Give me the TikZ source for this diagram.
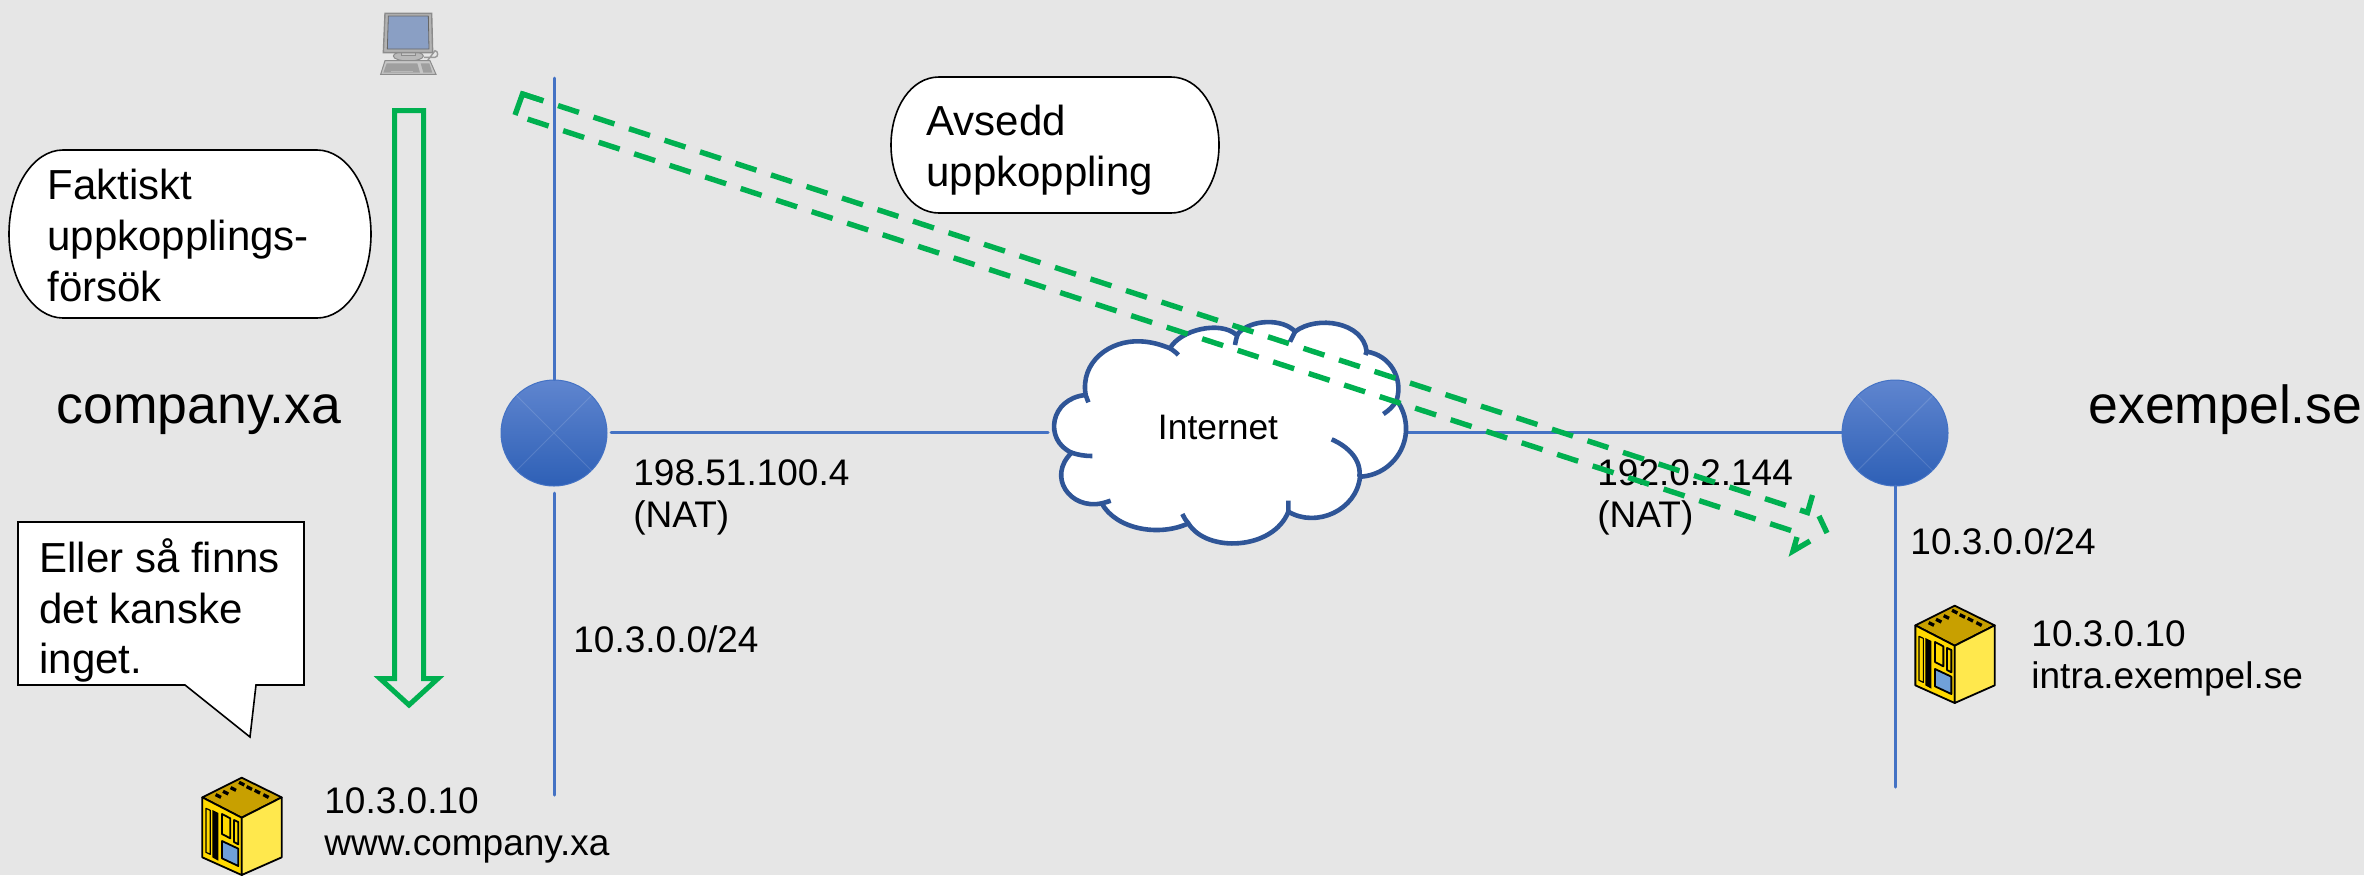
\documentclass[tikz,border=0pt]{standalone}
\usepackage{fontspec}
\setmainfont{Liberation Sans}
\definecolor{bgc}{HTML}{E6E6E6}
\definecolor{linec}{HTML}{4472C4}
\definecolor{greenc}{HTML}{00B050}
\definecolor{cloudc}{HTML}{2F5597}
\definecolor{srvtop}{HTML}{C8A000}
\definecolor{srvleft}{HTML}{FFD900}
\definecolor{srvright}{HTML}{FFE84D}
\definecolor{srvwin}{HTML}{70A0D8}
\definecolor{rtop}{HTML}{5F85CF}
\definecolor{rmid}{HTML}{3D6DC5}
\definecolor{rbot}{HTML}{2E60B6}
\tikzset{
  net/.style={draw=linec,line width=1.5pt,line cap=round},
  router/.style={circle,minimum size=53pt,inner sep=0pt,draw=linec,line width=.5pt,top color=rtop,middle color=rmid,bottom color=rbot},
  lbl/.style={anchor=west,inner sep=0pt,align=left,font=\fontsize{18.5}{21}\selectfont},
  big/.style={anchor=base west,inner sep=0pt,font=\fontsize{26.8}{30}\selectfont},
  callout/.style={draw=black,line width=.8pt,fill=white},
  calltext/.style={anchor=north west,inner sep=0pt,align=left,font=\fontsize{21}{25.4}\selectfont},
  srvedge/.style={draw=black,line width=.9pt,line join=round},
  dashgreen/.style={draw=greenc,line width=2.7pt,dash pattern=on 11pt off 7.667pt},
  solidgreen/.style={draw=greenc,line width=2.7pt,line join=miter},
}
\newcommand{\srvicon}[2]{%
\begin{scope}[shift={(#1,#2)},x=.16667pt,y=-.16667pt]
 \filldraw[srvedge,fill=srvtop] (215,113)--(335,172)--(215,233)--(97,172)--cycle;
 \filldraw[srvedge,fill=srvleft] (97,172)--(215,233)--(215,405)--(97,352)--cycle;
 \filldraw[srvedge,fill=srvright] (335,172)--(215,233)--(215,405)--(335,352)--cycle;
 \fill[black] (127,210)--(145,219)--(145,362)--(127,352)--cycle;
 \draw[srvedge,line width=.6pt] (108,205)--(121,211)--(121,343)--(108,337)--cycle;
 \filldraw[srvedge,fill=srvleft] (156,222)--(181,235)--(181,295)--(156,282)--cycle;
 \filldraw[srvedge,fill=srvleft] (192,240)--(205,246)--(205,313)--(192,306)--cycle;
 \filldraw[srvedge,fill=srvwin] (156,303)--(205,326)--(205,378)--(156,355)--cycle;
 \foreach \a/\b in {145/168,167/158,190/147,215/131,238/144,262/155,288/168}
   \fill[black,rotate around={-27:(\a,\b)}] (\a-9,\b-5) rectangle (\a+9,\b+5);
\end{scope}}
\begin{document}
\begin{tikzpicture}[x=.5pt,y=-.5pt]
\useasboundingbox (0,0) rectangle (2364,875);
\fill[bgc] (0,0) rectangle (2364,875);
% computer
\begin{scope}[shift={(300,0)},x=.16667pt,y=-.16667pt]
 \draw[gray!80,line width=.7pt] (372,172)--(405,172) arc[start angle=-90,end angle=90,x radius=8,y radius=-10] -- (375,192);
 \filldraw[draw=gray!90,fill=gray!55,line width=.5pt] (325,168) ellipse[x radius=45,y radius=15];
 \filldraw[draw=gray!90,fill=gray!45,line width=.5pt] (305,155) rectangle (345,166);
 \filldraw[draw=gray!90,fill=gray!60,line width=.7pt] (255,40)--(395,40)--(398,158)--(250,158)--cycle;
 \fill[fill={rgb,255:red,138;green,159;blue,196},draw=gray!80!black,line width=.4pt] (265,48)--(385,48)--(387,147)--(262,147)--cycle;
 \filldraw[draw=gray!90,fill=gray!45,line width=.5pt] (255,182)--(390,182)--(408,223)--(242,223)--cycle;
 \fill[gray!75] (260,190)--(352,190)--(360,218)--(250,218)--cycle;
 \fill[gray!75] (362,190)--(388,190)--(397,218)--(370,218)--cycle;
 \draw[gray!55,line width=.5pt] (272,213)--(340,213);
\end{scope}
% network
\node[router] (r1) at (554,433) {};
\node[router] (r2) at (1895,433) {};
\foreach \r in {r1,r2}{
 \draw[white,opacity=.13,line width=.5pt] (\r.45)--(\r.225) (\r.135)--(\r.-45);
}
\coordinate (t1) at (554,78);
\coordinate (b1) at (554,795);
\coordinate (g1) at (554,493);
\coordinate (e1) at (611,432);
\coordinate (cw) at (1048,432);
\coordinate (ce) at (1408,432);
\coordinate (w2) at (1842,432);
\coordinate (g2) at (1895,486);
\coordinate (b2) at (1895,787);
\draw[net] (t1)--(r1.north);
\draw[net] (g1)--(b1);
\draw[net] (e1)--(cw);
\draw[net] (ce)--(w2);
\draw[net] (g2)--(b2);
% cloud
\begin{scope}[shift={(1020,290)},x=.16667pt,y=-.16667pt]
 \filldraw[draw=cloudc,fill=white,line width=2.3pt,line join=round]
  (197,315) .. controls (180,215) and (270,150) .. (360,154)
  .. controls (395,155) and (425,165) .. (450,175)
  .. controls (480,120) and (600,90) .. (650,135)
  .. controls (690,85) and (790,85) .. (825,125)
  .. controls (890,75) and (1030,95) .. (1040,185)
  .. controls (1110,195) and (1150,265) .. (1130,330)
  .. controls (1200,430) and (1130,555) .. (1020,560)
  .. controls (1010,660) and (890,715) .. (805,665)
  .. controls (760,780) and (560,790) .. (505,700)
  .. controls (420,740) and (290,720) .. (245,640)
  .. controls (150,660) and (80,560) .. (155,488)
  .. controls (70,450) and (90,325) .. (197,315) -- cycle;
 \draw[cloudc,line width=2.3pt,line cap=butt]
  (450,175) .. controls (458,180) and (468,187) .. (475,195)
  (655,128) .. controls (650,140) and (647,152) .. (645,165)
  (825,125) .. controls (820,135) and (815,145) .. (810,155)
  (1040,185) -- (1036,195)
  (1130,330) .. controls (1120,350) and (1105,362) .. (1090,372)
  (1018,560) .. controls (1025,510) and (985,470) .. (935,448)
  (805,665) -- (805,632)
  (505,700) .. controls (497,692) and (492,682) .. (487,672)
  (245,640) .. controls (255,638) and (263,635) .. (272,632)
  (155,488) .. controls (175,495) and (195,498) .. (217,498)
  (197,315) -- (205,337);
\end{scope}
\node[anchor=center,inner sep=0pt,font=\fontsize{17.7}{21}\selectfont] (inet) at (1218,427) {Internet};
% labels
\node[big] (dom1) at (56,423) {company.xa};
\node[big] (dom2) at (2088,423) {exempel.se};
\node[lbl] (pub1) at (633,497) {198.51.100.4\\(NAT)};
\node[lbl] (pub2) at (1597,497) {192.0.2.144\\(NAT)};
\node[lbl] (net1) at (573,639) {10.3.0.0/24};
\node[lbl] (net2) at (1910,541) {10.3.0.0/24};
\node[lbl] (srv1) at (324,825) {10.3.0.10\\www.company.xa};
\node[lbl] (srv2) at (2031,658) {10.3.0.10\\intra.exempel.se};
\srvicon{170}{740}
\srvicon{1883}{568}
% callouts
\filldraw[callout] (9,234) .. controls (9,188) and (33,150) .. (63,150) -- (317,150) .. controls (347,150) and (371,188) .. (371,234) .. controls (371,280) and (347,318) .. (317,318) -- (63,318) .. controls (33,318) and (9,280) .. (9,234) -- cycle;
\node[calltext] (c1) at (47,169) {Faktiskt\\uppkopplings-\\försök};
\filldraw[callout] (891,145) .. controls (891,108) and (911,77) .. (939,77) -- (1171,77) .. controls (1199,77) and (1219,108) .. (1219,145) .. controls (1219,182) and (1199,213) .. (1171,213) -- (939,213) .. controls (911,213) and (891,182) .. (891,145) -- cycle;
\node[calltext] (c2) at (926,105) {Avsedd\\uppkoppling};
\filldraw[callout] (18,522) -- (304,522) -- (304,685) -- (256,685) -- (250,737) -- (185,685) -- (18,685) -- cycle;
\node[calltext] (c3) at (39,538) {Eller så finns\\det kanske\\inget.};
% block arrow
\draw[greenc,line width=2.5pt,line join=miter] (394.5,110.5)--(423.5,110.5)--(423.5,678.5)--(438,678.5)--(409,705)--(380,678.5)--(394.5,678.5)--cycle;
% dashed block arrow
\coordinate (tailB) at (515,115);
\coordinate (tailT) at (522.5,94);
\coordinate (shT) at (1800,510);
\coordinate (shC) at (1807.5,512.5);
\coordinate (barbT) at (1812.5,495);
\coordinate (tipA) at (1819,516);
\coordinate (tipB) at (1827,533);
\coordinate (barbA) at (1810,541);
\coordinate (barbB) at (1793,551);
\coordinate (barbC) at (1797,537);
\coordinate (lowEnd) at (1791,530.5);
\draw[solidgreen] (tailB)--(tailT)--(543,100.7);
\draw[dashgreen] (tailT)--(shT);
\draw[dashgreen,dash phase=12pt] (tailB)--(lowEnd);
\draw[solidgreen] (shT)--(shC)--(barbT);
\draw[solidgreen] (tipA)--(tipB);
\draw[solidgreen] (barbA)--(barbB)--(barbC);
\end{tikzpicture}
\end{document}
